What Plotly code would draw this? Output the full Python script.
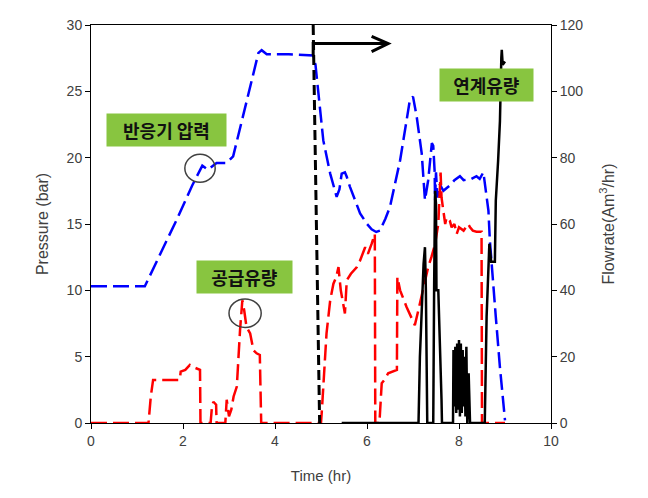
import plotly.graph_objects as go

# Reactor pressure (bar) - blue
p_time = [0, 1.17, 1.5, 1.86, 2.2, 2.35, 2.42, 2.54, 2.73, 2.95, 3.09, 3.38, 3.64, 3.71, 3.82, 4.3, 4.83,
          4.88, 4.94, 5.05, 5.2, 5.34, 5.4, 5.45, 5.52, 5.56, 5.63, 5.85, 6.0, 6.1, 6.2, 6.28, 6.4, 6.5,
          6.72, 6.93, 7.0, 7.08, 7.19, 7.26, 7.33, 7.38, 7.41, 7.44, 7.47, 7.48, 7.5, 7.53, 7.58, 7.66,
          7.8, 7.9, 8.02, 8.1, 8.27, 8.38, 8.45, 8.53, 8.57, 8.64, 8.67, 8.71, 8.8, 8.89, 8.97, 9.0]
pressure = [10.3, 10.3, 12.7, 15.3, 17.9, 19.0, 19.4, 19.1, 19.6, 19.6, 20.1, 24.2, 27.9, 28.1, 27.8, 27.8, 27.7,
            27.0, 25.1, 21.3, 18.8, 17.05, 17.6, 18.8, 18.9, 18.56, 17.8, 15.8, 15.0, 14.6, 14.4, 14.5, 15.4, 16.3,
            19.8, 24.3, 24.6, 23.1, 20.3, 16.8, 18.3, 20.0, 21.1, 20.9, 19.0, 16.8, 18.9, 17.0, 18.0, 17.5,
            17.9, 18.3, 18.6, 18.3, 18.4, 18.6, 18.4, 18.9, 17.8, 16.0, 13.8, 11.8, 8.0, 4.2, 1.2, 0.2]

# Supply flow (Am3/hr) - red
s_time = [0, 1.25, 1.3, 1.35, 1.93, 1.95, 2.05, 2.15, 2.2, 2.28, 2.37, 2.38, 2.6, 2.63, 2.66, 2.72, 2.73,
          2.92, 2.95, 3.0, 3.05, 3.1, 3.17, 3.24, 3.29, 3.33, 3.38, 3.46, 3.53, 3.6, 3.67, 3.7, 5.0,
          5.02, 5.12, 5.2, 5.27, 5.33, 5.38, 5.43, 5.49, 5.52, 5.56, 5.65, 5.78, 5.85, 5.96, 6.02, 6.1, 6.17,
          6.18, 6.27, 6.32, 6.38, 6.46, 6.55, 6.65, 6.66, 6.72, 6.86, 6.95, 7.04, 7.1, 7.15, 7.22, 7.33,
          7.4, 7.48, 7.55, 7.6, 7.62, 7.66, 7.7, 7.73, 7.8, 7.84, 7.9, 7.95, 8.0, 8.1, 8.2, 8.24, 8.3,
          8.38, 8.49, 8.5, 9.0]
supply = [0, 0, 8, 13, 13, 15.5, 16, 17.5, 17, 16.5, 16, 0, 0, 5, 6.4, 5.5, 0,
          0, 7, 2, 4, 8, 11, 28, 37, 34, 29, 27, 22, 21, 20.5, 0, 0,
          4, 27, 37, 42, 44, 47, 40, 35, 33, 43, 45, 47, 49, 53, 51, 54, 57,
          0, 0, 12, 13, 15, 15.5, 16, 44, 40, 35, 32, 29.5, 33, 36, 41, 47,
          50, 54, 60, 75.5, 68, 64, 60, 62, 61, 59, 60, 57, 59, 58, 60, 59, 58,
          57.7, 57.7, 0, 0]

# Linked flow (Am3/hr) - black
l_time = [5.45, 7.12, 7.15, 7.19, 7.23, 7.26, 7.28, 7.31, 7.44, 7.46, 7.48, 7.5, 7.51, 7.55, 7.6, 7.62, 7.63,
          7.87, 7.88, 7.9, 7.92, 7.94, 7.96, 7.98, 8.0, 8.02, 8.04, 8.06, 8.08, 8.1, 8.12, 8.14, 8.16, 8.18,
          8.21, 8.24, 8.56, 8.6, 8.66, 8.7, 8.78, 8.8, 8.85, 8.89, 8.92, 8.93, 8.95, 9.0]
linked = [0, 0, 20, 37, 48, 53, 40, 0, 0, 42, 70, 66, 40, 40, 20, 7, 0,
          0, 22, 5, 23, 3, 24, 4, 25, 2, 24, 3, 22, 5, 20, 2, 23, 0,
          15, 0, 0, 32, 54, 48.6, 48.6, 67, 79, 91, 110, 112.5, 108, 109]

x_ticks = [0, 2, 4, 6, 8, 10]
p_ticks = [0, 5, 10, 15, 20, 25, 30]
f_ticks = [0, 20, 40, 60, 80, 100, 120]

TICKFONT = dict(family="Liberation Sans, Arial", size=14, color="#404040")

fig = go.Figure()
fig.add_trace(go.Scatter(x=s_time, y=supply, yaxis="y2", mode="lines",
                         line=dict(color="#ff0000", width=2.5, dash="16px,6px"), showlegend=False))
fig.add_trace(go.Scatter(x=l_time, y=linked, yaxis="y2", mode="lines",
                         line=dict(color="#000000", width=2.5), showlegend=False))
fig.add_trace(go.Scatter(x=p_time, y=pressure, yaxis="y", mode="lines",
                         line=dict(color="#0000ff", width=2.5, dash="16px,6px"), showlegend=False))

# vertical dashed marker line and arrow
fig.add_shape(type="line", xref="x", yref="y", x0=4.83, y0=30, x1=4.97, y1=0,
              line=dict(color="black", width=3, dash="10px,5px"))
fig.add_shape(type="path", xref="x", yref="y",
              path="M 4.83 27.7 L 4.83 28.6 L 6.46 28.6", line=dict(color="black", width=3))
fig.add_shape(type="path", xref="x", yref="y",
              path="M 6.1 29.15 L 6.46 28.6 L 6.1 28.0", line=dict(color="black", width=3))

# circles
fig.add_shape(type="circle", xref="x", yref="y", x0=2.04, x1=2.7, y0=18.15, y1=20.25,
              line=dict(color="#404040", width=1.5))
fig.add_shape(type="circle", xref="x", yref="y", x0=3.0, x1=3.7, y0=7.2, y1=9.35,
              line=dict(color="#404040", width=1.5))

KFONT = dict(family="Noto Sans CJK KR", size=18, color="#111111", weight="bold")
GREEN = "#88c540"
fig.add_annotation(x=1.65, y=22.1, xref="x", yref="y", text="<b>반응기 압력</b>", showarrow=False,
                   bgcolor=GREEN, width=117, height=30, font=KFONT)
fig.add_annotation(x=3.34, y=11.0, xref="x", yref="y", text="<b>공급유량</b>", showarrow=False,
                   bgcolor=GREEN, width=93, height=30, font=KFONT)
fig.add_annotation(x=8.6, y=25.5, xref="x", yref="y", text="<b>연계유량</b>", showarrow=False,
                   bgcolor=GREEN, width=91, height=30, font=KFONT)

fig.update_layout(
    width=648, height=498,
    margin=dict(l=91, r=97, t=25, b=75),
    paper_bgcolor="white", plot_bgcolor="white",
    xaxis=dict(range=[0, 10], tickvals=x_ticks, ticks="outside", ticklen=5, tickcolor="black",
               showline=True, linecolor="black", linewidth=1, mirror=True, showgrid=False, zeroline=False,
               tickfont=TICKFONT,
               title=dict(text="Time (hr)", font=dict(family="Liberation Sans, Arial", size=15, color="#404040"),
                          standoff=22)),
    yaxis=dict(range=[0, 30], tickvals=p_ticks, ticks="outside", ticklen=5, tickcolor="black",
               showline=True, linecolor="black", linewidth=1, showgrid=False, zeroline=False,
               tickfont=TICKFONT,
               title=dict(text="Pressure (bar)", font=dict(family="Liberation Sans, Arial", size=16, color="#404040"),
                          standoff=14)),
    yaxis2=dict(range=[0, 120], tickvals=f_ticks, ticks="outside", ticklen=5, tickcolor="black",
                overlaying="y", side="right",
                showline=True, linecolor="black", linewidth=1, showgrid=False, zeroline=False,
                tickfont=TICKFONT,
                title=dict(text="Flowrate(Am<sup>3</sup>/hr)",
                           font=dict(family="Liberation Sans, Arial", size=16, color="#404040"),
                           standoff=20)),
)

fig.write_html("out.html")
